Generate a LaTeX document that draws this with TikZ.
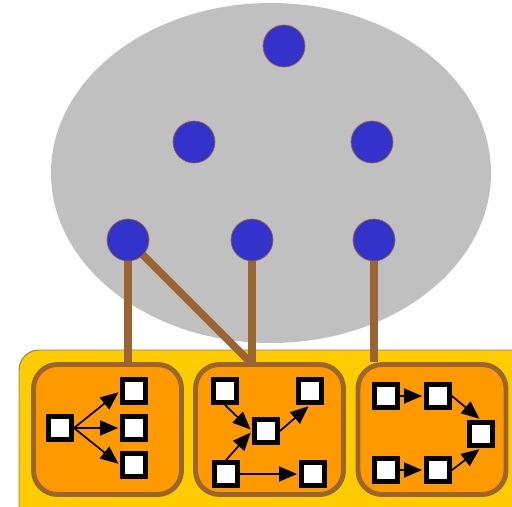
\documentclass[tikz,border=0pt]{standalone}
\usetikzlibrary{shapes,positioning,arrows,arrows.meta}
\definecolor{cloudgray}{HTML}{C0C0C0}
\definecolor{nodeblue}{HTML}{3333CC}
\definecolor{linkbrown}{HTML}{996633}
\definecolor{trayyellow}{HTML}{FFCC00}
\definecolor{boxorange}{HTML}{FF9900}
\begin{document}
\begin{tikzpicture}[x=0.5mm,y=-0.5mm]

  \clip (0,0) rectangle (512,506);

  \coordinate (Cloud) at (271,173);
  \coordinate (Top) at (284,46);
  \coordinate (MidL) at (194,142);
  \coordinate (MidR) at (372,142);
  \coordinate (LowL) at (128,240);
  \coordinate (LowM) at (252,240);
  \coordinate (LowR) at (374,240);

  \tikzstyle{peer}=[draw=linkbrown,line width=1pt,
                    shape=circle,fill=nodeblue,
                    minimum size=21mm,inner sep=0pt];
  \tikzstyle{group}=[draw=linkbrown,line width=7pt,
                     shape=rectangle,rounded corners=12mm,
                     fill=boxorange,inner sep=0pt,
                     minimum width=74mm,minimum height=65mm];
  \tikzstyle{task}=[draw=black,line width=7pt,
                    shape=rectangle,fill=white,
                    minimum size=11.5mm,inner sep=0pt];
  \tikzstyle{link}=[draw=linkbrown,line width=11pt];
  \tikzstyle{dep}=[-{Triangle[length=9mm,width=7.5mm]},line width=2.4pt,
                   shorten >=1mm];

  \fill[cloudgray] (Cloud) ellipse (220 and 170);

  \filldraw[fill=trayyellow,draw=gray,line width=1.4pt,rounded corners=10mm]
        (19,350) rectangle (560,560);

  \node[group] (BoxA) at (107.5,429.5) {};
  \node[group] (BoxB) at (269.5,429.5) {};
  \node[group] (BoxC) at (432,429.5) {};

  \draw[link] (LowL) -- (BoxA.north -| LowL);
  \draw[link] (LowL) -- (250,362);
  \draw[link] (LowM) -- (BoxB.north -| LowM);
  \draw[link] (LowR) -- (BoxC.north -| LowR);

  \node[peer] (TopPeer) at (Top) {};
  \node[peer] (MidLPeer) at (MidL) {};
  \node[peer] (MidRPeer) at (MidR) {};
  \node[peer] (LowLPeer) at (LowL) {};
  \node[peer] (LowMPeer) at (LowM) {};
  \node[peer] (LowRPeer) at (LowR) {};

  % first group: fan out
  \node[task] (A1) at (60,428) {};
  \node[task] (A2) at (134,391) {};
  \node[task] (A3) at (134,428) {};
  \node[task] (A4) at (134,465) {};
  \draw[dep] (A1.east) -- (A2.west);
  \draw[dep] (A1.east) -- (A3.west);
  \draw[dep] (A1.east) -- (A4.west);

  % second group
  \node[task] (B1) at (225,391) {};
  \node[task] (B2) at (310,391) {};
  \node[task] (B3) at (266,431) {};
  \node[task] (B4) at (226,474) {};
  \node[task] (B5) at (313,474) {};
  \draw[dep] (B1.south) -- (B3.west);
  \draw[dep] (B4.north) -- (B3.west);
  \draw[dep] (B3.east) -- (B2.south);
  \draw[dep] (B4.east) -- (B5.west);

  % third group: two chains
  \node[task] (C1) at (386,396) {};
  \node[task] (C2) at (438,396) {};
  \node[task] (C3) at (481,434) {};
  \node[task] (C4) at (386,470) {};
  \node[task] (C5) at (438,470) {};
  \draw[dep] (C1.east) -- (C2.west);
  \draw[dep] (C2.east) -- (C3.north);
  \draw[dep] (C4.east) -- (C5.west);
  \draw[dep] (C5.east) -- (C3.south);

\end{tikzpicture}
\end{document}
